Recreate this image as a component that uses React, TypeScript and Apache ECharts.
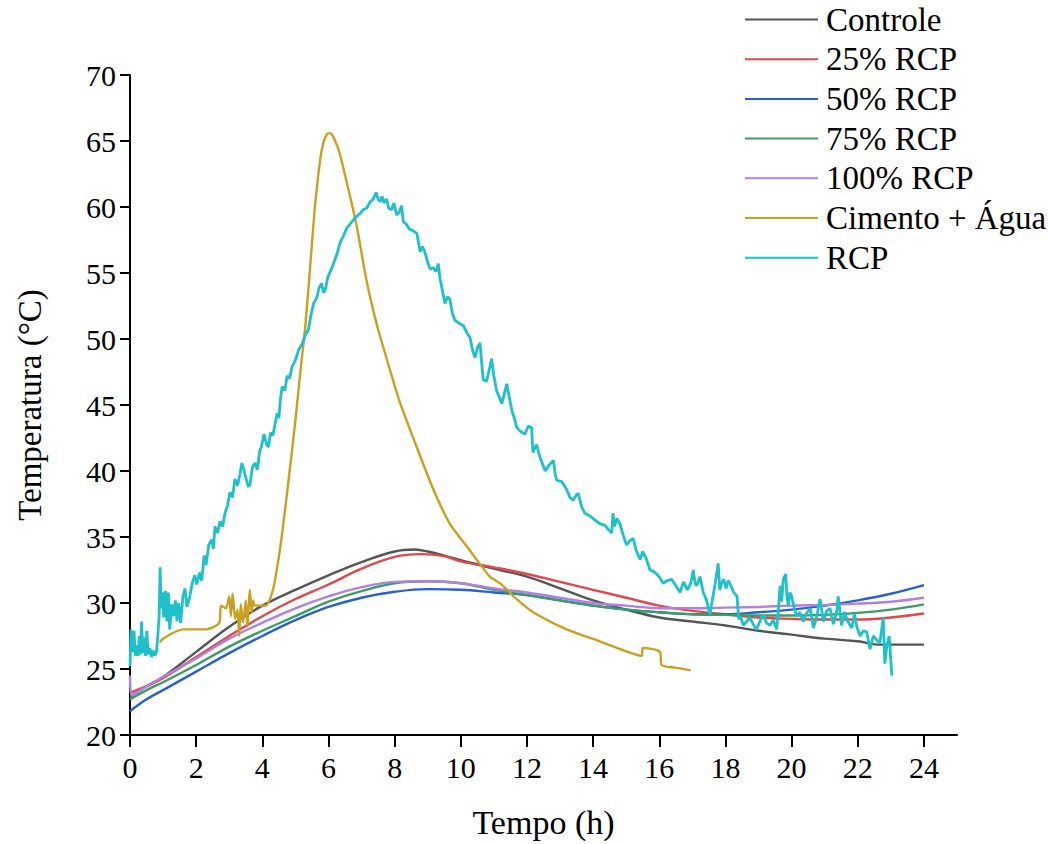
import React, { useEffect, useRef } from "react";
import * as echarts from "echarts";

const seriesNames = ["Controle", "25% RCP", "50% RCP", "75% RCP", "100% RCP", "Cimento + Água", "RCP"];
const seriesColors = ["#555555", "#E2474D", "#2762C6", "#3A9E62", "#B27FE2", "#C9A020", "#1EC1C9"];

const xTickValues = [0, 2, 4, 6, 8, 10, 12, 14, 16, 18, 20, 22, 24];

const controleTime = [0, 0.5, 1, 2, 3, 4, 5, 6, 7, 8, 8.6, 9, 10, 11, 12, 13, 14, 15, 16, 17, 18, 19, 20, 21, 22, 22.6, 23, 24];
const controleTemp = [22.9, 23.7, 24.4, 26.3, 28.2, 29.8, 31.0, 32.1, 33.1, 33.9, 34.05, 33.9, 33.25, 32.6, 32.0, 31.1, 30.2, 29.5, 28.9, 28.6, 28.3, 27.9, 27.6, 27.3, 27.1, 26.85, 26.85, 26.85];

const rcp25Time = [0, 0.5, 1, 2, 3, 4, 5, 6, 7, 8, 8.8, 9.5, 10, 11, 12, 13, 14, 15, 16, 17, 18, 19, 20, 21, 22, 23, 24];
const rcp25Temp = [23.2, 23.7, 24.3, 25.9, 27.5, 29.0, 30.3, 31.4, 32.6, 33.5, 33.7, 33.55, 33.15, 32.7, 32.2, 31.6, 31.0, 30.4, 29.8, 29.4, 29.15, 28.9, 28.8, 28.75, 28.75, 28.9, 29.2];

const rcp50Time = [0, 0.5, 1, 2, 3, 4, 5, 6, 7, 8, 9, 10, 11, 12, 13, 14, 15, 16, 17, 18, 19, 20, 21, 22, 23, 24];
const rcp50Temp = [21.8, 22.7, 23.4, 24.8, 26.2, 27.5, 28.7, 29.7, 30.4, 30.85, 31.05, 31.0, 30.8, 30.6, 30.2, 29.8, 29.5, 29.3, 29.15, 29.15, 29.3, 29.5, 29.8, 30.2, 30.7, 31.35];

const rcp75Time = [0, 0.5, 1, 2, 3, 4, 5, 6, 7, 8, 9, 10, 11, 12, 13, 14, 15, 16, 17, 18, 19, 20, 21, 22, 23, 24];
const rcp75Temp = [22.7, 23.4, 24.0, 25.3, 26.7, 27.9, 29.0, 30.1, 30.9, 31.5, 31.65, 31.5, 31.0, 30.6, 30.2, 29.8, 29.5, 29.3, 29.15, 29.1, 29.05, 29.05, 29.1, 29.25, 29.5, 29.9];

const rcp100Time = [0, 0.05, 0.5, 1, 2, 3, 4, 5, 6, 7, 8, 9, 10, 11, 12, 13, 14, 15, 16, 17, 18, 19, 20, 21, 22, 23, 24];
const rcp100Temp = [24.5, 23.0, 23.7, 24.4, 25.8, 27.3, 28.5, 29.6, 30.5, 31.2, 31.6, 31.65, 31.5, 31.1, 30.8, 30.4, 30.0, 29.8, 29.6, 29.6, 29.65, 29.7, 29.8, 29.85, 29.95, 30.1, 30.4];

const cimentoTime = [0.9, 1.0, 1.6, 2.3, 2.7, 2.75, 2.9, 3.0, 3.05, 3.1, 3.18, 3.25, 3.3, 3.35, 3.42, 3.5, 3.55, 3.62, 3.68, 3.72, 3.78, 4.1, 4.3, 4.45, 4.6, 4.78, 4.99, 5.15, 5.3, 5.44, 5.59, 5.75, 5.85, 5.95, 6.02, 6.1, 6.2, 6.3, 6.55, 6.85, 7.16, 7.46, 7.7, 8.16, 8.67, 9.17, 9.67, 10.18, 10.88, 11.18, 11.69, 12.19, 13.2, 14.2, 15.47, 15.5, 16.02, 16.07, 16.5, 16.95];
const cimentoTemp = [27.0, 27.3, 28.0, 28.0, 28.5, 29.8, 29.6, 30.5, 29.0, 30.7, 28.8, 29.5, 27.5, 29.9, 28.5, 30.2, 28.2, 31.0, 29.3, 30.2, 29.8, 29.8, 30.8, 32.7, 35.3, 39.0, 43.6, 47.5, 51.0, 55.3, 60.0, 63.6, 64.9, 65.5, 65.6, 65.5, 65.0, 64.4, 61.9, 58.6, 54.3, 51.1, 49.0, 45.2, 41.8, 38.6, 36.0, 34.3, 32.0, 31.5, 30.3, 29.3, 28.0, 27.1, 26.0, 26.6, 26.3, 25.3, 25.1, 24.9];

const rcpTime = [0.00, 0.03, 0.08, 0.12, 0.16, 0.2, 0.24, 0.28, 0.31, 0.35, 0.39, 0.43, 0.47, 0.51, 0.55, 0.6, 0.65, 0.7, 0.75, 0.8, 0.84, 0.88, 0.91, 0.94, 0.98, 1.02, 1.07, 1.12, 1.16, 1.2, 1.26, 1.32, 1.37, 1.42, 1.47, 1.53, 1.6, 1.66, 1.72, 1.8, 1.88, 1.96, 2.02, 2.1, 2.17, 2.24, 2.3, 2.38, 2.47, 2.52, 2.57, 2.65, 2.72, 2.8, 2.87, 2.95, 3.02, 3.1, 3.17, 3.25, 3.32, 3.38, 3.43, 3.5, 3.58, 3.63, 3.7, 3.78, 3.85, 3.92, 3.98, 4.05, 4.12, 4.18, 4.25, 4.32, 4.38, 4.45, 4.5, 4.55, 4.6, 4.68, 4.75, 4.82, 4.9, 5.0, 5.1, 5.2, 5.3, 5.39, 5.47, 5.55, 5.64, 5.72, 5.79, 5.85, 5.9, 5.98, 6.07, 6.15, 6.25, 6.35, 6.45, 6.55, 6.65, 6.75, 6.85, 6.95, 7.05, 7.15, 7.26, 7.35, 7.44, 7.5, 7.56, 7.62, 7.68, 7.76, 7.82, 7.9, 7.98, 8.06, 8.14, 8.21, 8.26, 8.35, 8.46, 8.56, 8.67, 8.73, 8.77, 8.84, 8.9, 9.0, 9.07, 9.17, 9.25, 9.32, 9.37, 9.45, 9.52, 9.6, 9.67, 9.75, 9.83, 9.95, 10.08, 10.2, 10.28, 10.36, 10.43, 10.5, 10.58, 10.63, 10.68, 10.78, 10.88, 10.93, 11.0, 11.08, 11.16, 11.24, 11.32, 11.39, 11.45, 11.55, 11.62, 11.69, 11.8, 11.94, 12.04, 12.14, 12.18, 12.29, 12.4, 12.55, 12.65, 12.8, 12.85, 12.9, 13.05, 13.2, 13.3, 13.4, 13.5, 13.55, 13.65, 13.75, 13.9, 14.05, 14.21, 14.35, 14.45, 14.56, 14.6, 14.65, 14.72, 14.81, 14.9, 15.01, 15.11, 15.21, 15.3, 15.42, 15.5, 15.6, 15.72, 15.82, 15.92, 16.02, 16.12, 16.25, 16.37, 16.5, 16.63, 16.73, 16.85, 16.95, 17.03, 17.08, 17.13, 17.23, 17.33, 17.43, 17.53, 17.6, 17.68, 17.78, 17.83, 17.9, 17.95, 18.02, 18.08, 18.13, 18.25, 18.35, 18.4, 18.47, 18.54, 18.64, 18.74, 18.84, 18.94, 19.04, 19.14, 19.24, 19.34, 19.45, 19.55, 19.6, 19.65, 19.7, 19.75, 19.82, 19.86, 19.9, 19.95, 20.0, 20.08, 20.15, 20.25, 20.35, 20.45, 20.56, 20.66, 20.76, 20.86, 20.96, 21.06, 21.16, 21.26, 21.36, 21.41, 21.51, 21.6, 21.7, 21.82, 21.9, 21.97, 22.07, 22.17, 22.27, 22.37, 22.47, 22.57, 22.67, 22.77, 22.82, 22.88, 22.95, 23.03];
const rcpTemp = [25.2, 28.0, 26.3, 27.9, 26.0, 26.8, 26.0, 27.5, 26.1, 28.6, 26.2, 27.4, 26.0, 27.9, 26.1, 26.6, 25.9, 26.4, 26.0, 26.3, 27.5, 29.0, 32.7, 29.6, 30.8, 28.9, 30.9, 28.6, 30.8, 28.0, 29.9, 29.0, 30.2, 28.6, 30.0, 28.5, 30.5, 31.1, 29.7, 30.4, 31.5, 32.1, 31.4, 32.3, 31.7, 33.6, 32.9, 34.4, 34.8, 34.1, 35.8, 35.3, 36.2, 35.8, 36.8, 37.4, 38.4, 38.0, 39.4, 38.9, 39.7, 40.6, 40.2, 39.5, 38.8, 39.0, 40.3, 40.6, 40.1, 41.5, 41.9, 42.8, 42.1, 41.8, 42.9, 42.7, 43.5, 44.4, 44.0, 45.5, 46.4, 46.1, 47.2, 47.0, 47.9, 48.4, 49.2, 49.6, 50.3, 50.7, 51.8, 52.7, 53.1, 53.9, 54.2, 53.5, 53.7, 54.7, 55.2, 55.7, 56.4, 57.3, 57.8, 58.4, 58.7, 59.0, 59.3, 59.5, 59.8, 59.9, 60.4, 60.6, 61.1, 60.6, 60.4, 60.8, 60.3, 60.6, 59.9, 59.8, 60.3, 59.4, 59.6, 60.1, 58.9, 58.7, 58.3, 58.2, 58.0, 57.2, 56.6, 57.0, 56.7, 55.8, 55.3, 55.4, 55.1, 55.7, 54.6, 53.6, 52.7, 53.2, 53.0, 51.9, 51.4, 51.2, 51.0, 50.4, 50.1, 49.1, 48.6, 49.3, 49.7, 48.2, 46.9, 46.8, 47.9, 48.5, 47.2, 46.1, 45.6, 45.1, 45.9, 46.6, 45.8, 44.5, 44.0, 43.3, 43.0, 42.8, 43.4, 43.3, 41.4, 42.0, 41.0, 40.0, 40.4, 40.8, 39.8, 39.3, 39.2, 38.6, 38.0, 37.8, 38.2, 38.3, 37.3, 36.8, 36.6, 36.3, 36.0, 35.9, 35.6, 35.3, 36.8, 35.8, 36.4, 36.0, 35.2, 34.4, 34.7, 34.9, 34.0, 33.3, 33.9, 33.4, 32.5, 32.4, 32.2, 31.9, 31.5, 31.7, 31.8, 31.3, 30.8, 31.6, 31.0, 31.5, 32.5, 31.5, 31.3, 32.0, 30.8, 30.2, 29.1, 30.2, 31.3, 33.0, 31.0, 31.6, 31.8, 31.1, 31.7, 31.5, 30.8, 30.5, 28.8, 28.9, 28.3, 28.6, 28.9, 28.4, 28.0, 28.6, 29.1, 28.5, 28.3, 28.7, 28.0, 29.5, 31.3, 30.1, 31.8, 32.2, 30.5, 29.8, 30.8, 30.5, 29.6, 29.0, 29.3, 28.6, 29.2, 29.6, 28.1, 29.0, 30.3, 28.6, 29.4, 29.6, 28.4, 29.3, 30.5, 28.3, 29.3, 28.6, 28.1, 29.2, 28.2, 27.5, 27.9, 27.8, 26.5, 27.5, 27.2, 27.0, 28.9, 25.4, 26.8, 27.5, 24.5];

const allTimes = [controleTime, rcp25Time, rcp50Time, rcp75Time, rcp100Time, cimentoTime, rcpTime];
const allTemps = [controleTemp, rcp25Temp, rcp50Temp, rcp75Temp, rcp100Temp, cimentoTemp, rcpTemp];
const smoothFlags = [0.4, 0.4, 0.4, 0.4, 0.4, 0.25, false];
const lineWidths = [2.4, 2.4, 2.4, 2.4, 2.4, 2.4, 2.8];

const FONT = "'Liberation Serif', 'Times New Roman', serif";

export default function App() {
  const ref = useRef<HTMLDivElement>(null);
  useEffect(() => {
    if (!ref.current) return;
    const chart = echarts.init(ref.current, null, { renderer: "svg" });
    const series = seriesNames.map((name, i) => ({
      name,
      type: "line",
      data: allTimes[i].map((t, k) => [t, allTemps[i][k]]),
      showSymbol: false,
      symbol: "none",
      smooth: smoothFlags[i],
      lineStyle: { color: seriesColors[i], width: lineWidths[i] },
      itemStyle: { color: seriesColors[i] },
      z: 2 + i,
    }));
    chart.setOption({
      animation: false,
      backgroundColor: "#ffffff",
      textStyle: { fontFamily: FONT },
      legend: {
        orient: "vertical",
        left: 745,
        top: 3,
        padding: 0,
        itemWidth: 73,
        itemHeight: 2,
        itemGap: 6.7,
        icon: "rect",
        data: seriesNames,
        textStyle: { fontFamily: FONT, fontSize: 33, color: "#000", lineHeight: 33, padding: [0, 0, 0, 3] },
      },
      grid: { left: 130, right: 91, top: 75, bottom: 104, containLabel: false },
      xAxis: {
        type: "value",
        min: 0,
        max: 25,
        interval: 2,
        name: "Tempo (h)",
        nameLocation: "middle",
        nameGap: 70,
        nameTextStyle: { fontFamily: FONT, fontSize: 34, color: "#000" },
        axisLine: { show: true, lineStyle: { color: "#000", width: 2 } },
        axisTick: { show: true, inside: false, length: 12, lineStyle: { color: "#000", width: 2 }, customValues: xTickValues },
        axisLabel: { fontFamily: FONT, fontSize: 30, color: "#000", margin: 17, customValues: xTickValues },
        splitLine: { show: false },
      },
      yAxis: {
        type: "value",
        min: 20,
        max: 70,
        interval: 5,
        name: "Temperatura (°C)",
        nameLocation: "middle",
        nameGap: 84,
        nameTextStyle: { fontFamily: FONT, fontSize: 33, color: "#000" },
        axisLine: { show: true, lineStyle: { color: "#000", width: 2 } },
        axisTick: { show: true, inside: false, length: 10, lineStyle: { color: "#000", width: 2 } },
        axisLabel: { fontFamily: FONT, fontSize: 30, color: "#000", margin: 14 },
        splitLine: { show: false },
      },
      series,
    });
    return () => chart.dispose();
  }, []);
  return <div ref={ref} style={{ position: "fixed", left: 0, top: 0, width: 1048, height: 844, background: "#fff" }} />;
}
